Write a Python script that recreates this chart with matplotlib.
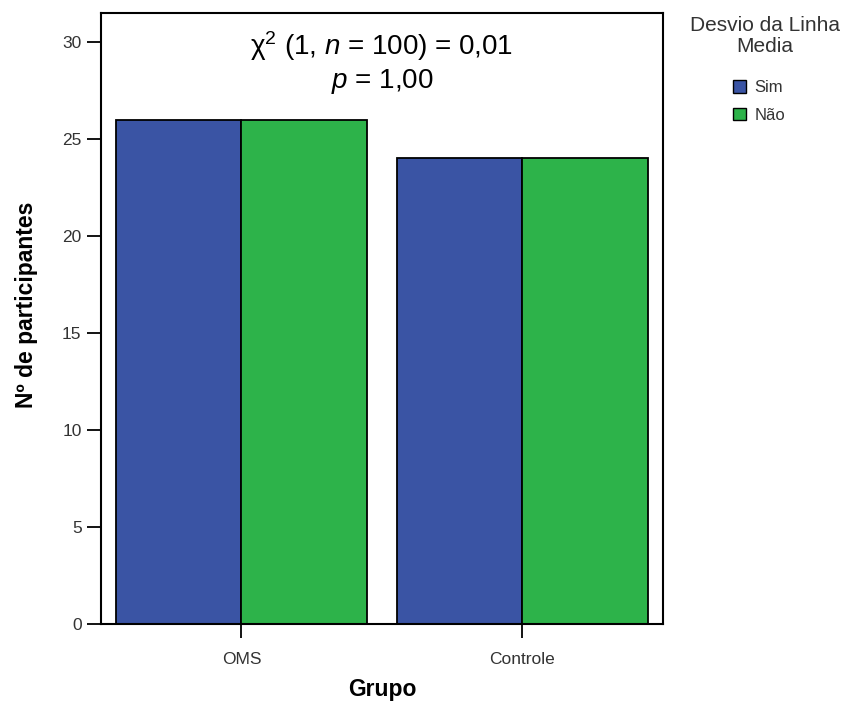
import numpy as np
import matplotlib
matplotlib.use("Agg")
import matplotlib.pyplot as plt
from matplotlib.patches import Patch

plt.rcParams["font.family"] = ["Liberation Sans", "DejaVu Sans"]
plt.rcParams["mathtext.fontset"] = "custom"
plt.rcParams["mathtext.rm"] = "Liberation Sans"
plt.rcParams["mathtext.it"] = "Liberation Sans:italic"

groups = ["OMS", "Controle"]
series = ["Sim", "Não"]
counts = {"Sim": [26, 24], "Não": [26, 24]}
colors = {"Sim": "#3a54a4", "Não": "#2db34a"}
yticks = [0, 5, 10, 15, 20, 25, 30]

fig = plt.figure(figsize=(8.51, 7.02), dpi=100)
ax = fig.add_axes([0.1187, 0.111, 0.6603, 0.8705])

x = np.arange(len(groups))
w = 0.448
for i, s in enumerate(series):
    ax.bar(x + (i - 0.5) * w, counts[s], width=w, color=colors[s],
           edgecolor="black", linewidth=1.3, zorder=2)

ax.set_xlim(-0.5, 1.5)
ax.set_ylim(0, 31.5)
ax.set_yticks(yticks)
ax.set_xticks(x)
ax.set_xticklabels(groups)
ax.tick_params(axis="y", direction="out", length=10, width=1.3, labelsize=12.5,
               labelcolor="#333333", pad=4)
ax.tick_params(axis="x", direction="out", length=10, width=1.3, labelsize=12.5,
               labelcolor="#333333", pad=10)
for sp in ax.spines.values():
    sp.set_linewidth(1.5)

ax.set_xlabel("Grupo", fontsize=16.5, fontweight="bold", labelpad=8)
ax.set_ylabel("Nº de participantes", fontsize=16.5, fontweight="bold")
ax.yaxis.set_label_coords(-0.112, 0.523)

ax.text(0.5, 29.8, "χ$^{2}$ (1, $n$ = 100) = 0,01", ha="center", va="center",
        fontsize=20)
ax.text(0.5, 27.95, "$p$ = 1,00", ha="center", va="center", fontsize=20)

# legend title drawn separately so spacing matches
fig.text(0.899, 1 - 36 / 702, "Desvio da Linha\nMedia", ha="center", va="center",
         multialignment="center", fontsize=15, color="#333333", linespacing=1.15)
handles = [Patch(facecolor=colors[s], edgecolor="black", label=s) for s in series]
leg = fig.legend(handles=handles, loc="upper left",
                 bbox_to_anchor=(733 / 851, 1 - 80 / 702), frameon=False, fontsize=12,
                 handlelength=0.8, handleheight=0.8, handletextpad=0.5,
                 labelspacing=0.75, borderpad=0, borderaxespad=0)
for t in leg.get_texts():
    t.set_color("#333333")

fig.savefig("out.png", dpi=100)
